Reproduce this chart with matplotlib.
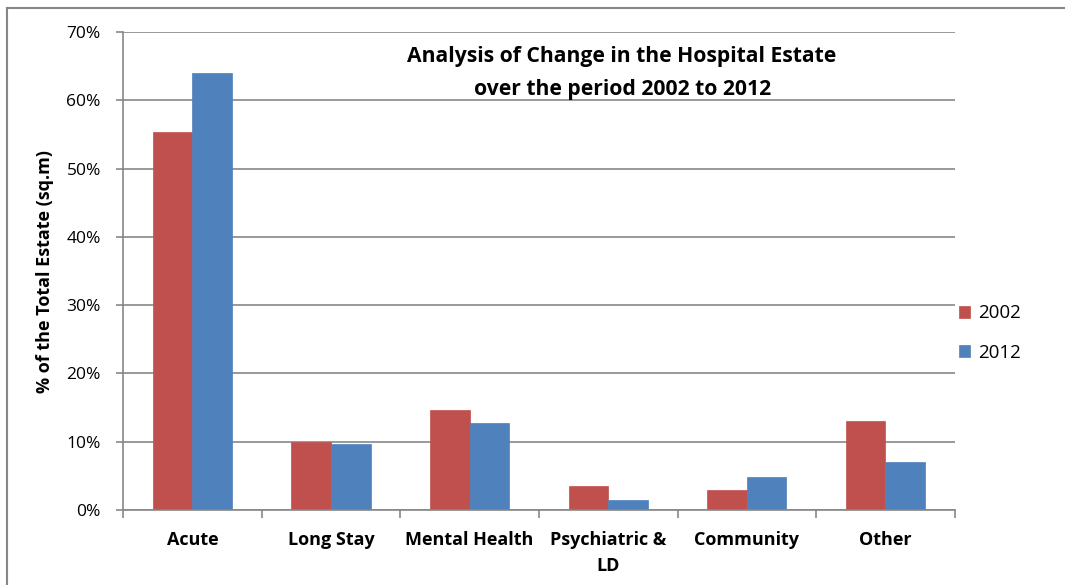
import numpy as np
import matplotlib
matplotlib.use('Agg')
import matplotlib.pyplot as plt
from matplotlib.lines import Line2D
from matplotlib.ticker import PercentFormatter

categories = ['Acute', 'Long Stay', 'Mental Health', 'Psychiatric &\nLD', 'Community', 'Other']
share_2002 = [55.4, 10.0, 14.6, 3.6, 3.0, 13.1]
share_2012 = [64.0, 9.7, 12.7, 1.5, 4.9, 7.1]
series_names = ['2002', '2012']

plt.rcParams['font.family'] = ['Open Sans', 'DejaVu Sans']

fig = plt.figure(figsize=(10.65, 5.85), dpi=100)
ax = fig.add_axes([0.1155, 0.128, 0.781, 0.8175])

x = np.arange(len(categories))
w = 1 / 3.5
ax.bar(x - w / 2, share_2002, w, color='#C0504D', edgecolor='#C0504D', linewidth=0.5, label=series_names[0])
ax.bar(x + w / 2, share_2012, w, color='#4F81BD', edgecolor='#4F81BD', linewidth=0.5, label=series_names[1])

ax.set_xlim(-0.5, len(categories) - 0.5)
ax.set_ylim(0, 70)
ax.set_yticks(np.arange(0, 71, 10))
ax.yaxis.set_major_formatter(PercentFormatter(decimals=0))
ax.grid(axis='y', color='#878787', linewidth=1.2)
ax.set_axisbelow(True)

# category boundaries as major ticks, labels on minor ticks
ax.set_xticks(np.arange(-0.5, len(categories), 1))
ax.set_xticklabels([])
ax.set_xticks(x, minor=True)
ax.set_xticklabels(categories, minor=True, fontsize=13, fontweight='bold')
for lbl in ax.get_xticklabels(minor=True):
    lbl.set_linespacing(1.55)
ax.tick_params(axis='x', which='major', length=6, color='#878787', width=1.2)
ax.tick_params(axis='x', which='minor', length=0, pad=15)
ax.tick_params(axis='y', length=5, color='#878787', width=1.2, pad=11, labelsize=12.5)

for s in ['top', 'right']:
    ax.spines[s].set_visible(False)
for s in ['left', 'bottom']:
    ax.spines[s].set_color('#878787')
    ax.spines[s].set_linewidth(1.2)

ax.set_ylabel('% of the Total Estate (sq.m)', fontsize=13, fontweight='bold', labelpad=9)

ax.text(0.6, 0.914, 'Analysis of Change in the Hospital Estate\nover the period 2002 to 2012',
        transform=ax.transAxes, ha='center', va='center', fontsize=15.2,
        fontweight='bold', linespacing=1.75)

ax.legend(loc='center left', bbox_to_anchor=(1.0, 0.37), frameon=False,
          fontsize=13.5, handlelength=0.6, handleheight=0.6, handletextpad=0.45,
          labelspacing=1.15, borderaxespad=0, borderpad=0.2)

# outer chart border
fig.add_artist(Line2D([7 / 1065, 1], [1 - 7.5 / 585, 1 - 7.5 / 585], color='#878787', linewidth=1.5))
fig.add_artist(Line2D([7 / 1065, 7 / 1065], [0, 1 - 7.5 / 585], color='#878787', linewidth=1.5))

fig.savefig('out.png', dpi=100)
